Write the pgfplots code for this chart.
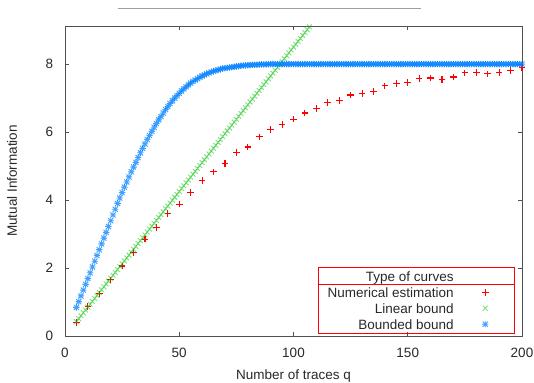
\documentclass[border=0pt]{standalone}
\usepackage{fontspec}
\setmainfont{Liberation Sans}
\usepackage{pgfplots}
\pgfplotsset{compat=1.18}
\definecolor{gpred}{RGB}{255,0,0}
\definecolor{gpgreen}{RGB}{0,192,0}
\definecolor{gpblue}{RGB}{0,128,255}
\definecolor{frame}{RGB}{80,80,80}
\definecolor{txt}{RGB}{40,40,40}
\makeatletter
\pgfdeclareplotmark{gpstar}{%
  \pgfpathmoveto{\pgfqpoint{-\pgfplotmarksize}{0pt}}\pgfpathlineto{\pgfqpoint{\pgfplotmarksize}{0pt}}%
  \pgfpathmoveto{\pgfqpoint{0pt}{-\pgfplotmarksize}}\pgfpathlineto{\pgfqpoint{0pt}{\pgfplotmarksize}}%
  \pgfpathmoveto{\pgfqpoint{-0.8\pgfplotmarksize}{-0.8\pgfplotmarksize}}\pgfpathlineto{\pgfqpoint{0.8\pgfplotmarksize}{0.8\pgfplotmarksize}}%
  \pgfpathmoveto{\pgfqpoint{-0.8\pgfplotmarksize}{0.8\pgfplotmarksize}}\pgfpathlineto{\pgfqpoint{0.8\pgfplotmarksize}{-0.8\pgfplotmarksize}}%
  \pgfusepathqstroke}
\pgfdeclareplotmark{gpplus}{%
  \pgfpathmoveto{\pgfqpoint{-\pgfplotmarksize}{0pt}}\pgfpathlineto{\pgfqpoint{\pgfplotmarksize}{0pt}}%
  \pgfpathmoveto{\pgfqpoint{0pt}{-\pgfplotmarksize}}\pgfpathlineto{\pgfqpoint{0pt}{\pgfplotmarksize}}%
  \pgfusepathqstroke}
\makeatother
\begin{document}
\begin{tikzpicture}
\path[use as bounding box] (-65bp,-47bp) rectangle (469bp,336bp);
\begin{axis}[
  scale only axis, width=457bp, height=310bp,
  at={(0,0)}, anchor=south west,
  xmin=0, xmax=200, ymin=0, ymax=9.12,
  xtick={0,50,100,150,200}, ytick={0,2,4,6,8},
  tick align=inside, major tick length=4bp,
  axis line style={frame, line width=0.9bp},
  every tick/.style={frame, line width=0.9bp},
  font=\fontsize{13.5bp}{16bp}\selectfont,
  /pgf/number format/assume math mode=true,
  tick label style={txt, inner sep=0pt},
  xticklabel style={anchor=center, yshift=-16.5bp},
  yticklabel style={anchor=east, xshift=-11.7bp},
  xlabel={Number of traces q}, ylabel={Mutual Information},
  xlabel style={txt, at={(axis description cs:0.5,-0.129)}, anchor=center, inner sep=0pt},
  ylabel style={txt, at={(axis description cs:-0.116,0.5)}, anchor=center, inner sep=0pt},
  legend entries={Type of curves, Numerical estimation, Linear bound, Bounded bound},
  legend cell align=right, legend plot pos=right,
  legend image code/.code={\path (-31bp,0bp) (28bp,0bp); \draw[#1] plot coordinates {(0bp,0bp)};},
  legend style={at={(axis cs:196.5,2.0)}, anchor=north east, draw=none, fill=none,
    inner sep=0pt, column sep=0pt, row sep=0pt, text=txt,
    nodes={inner sep=0pt, text height=12.8bp, text depth=3.2bp}},
]
\addlegendimage{empty legend}
\addplot[only marks, mark=gpplus, mark size=3.3bp, draw=gpred, line width=1.1bp, mark options={draw=gpred}] coordinates {
(5,0.40)(10,0.86)(15,1.24)(20,1.65)(25,2.06)(30,2.45)(35,2.85)(40,3.20)(45,3.61)(50,3.88)
(55,4.23)(60,4.58)(65,4.83)(70,5.08)(75,5.40)(80,5.56)(85,5.86)(90,6.07)(95,6.22)(100,6.38)
(105,6.56)(110,6.70)(115,6.87)(120,6.93)(125,7.09)(130,7.13)(135,7.20)(140,7.36)(145,7.42)(150,7.46)
(155,7.57)(160,7.59)(165,7.54)(170,7.62)(175,7.74)(180,7.76)(185,7.71)(190,7.76)(195,7.81)(200,7.89)};
\addplot[only marks, mark=x, mark size=3.4bp, draw=gpgreen, line width=0.9bp, mark options={draw=gpgreen, draw opacity=0.5}] coordinates {
(5,0.425)(6,0.510)(7,0.595)(8,0.680)(9,0.765)(10,0.850)(11,0.935)(12,1.020)(13,1.105)(14,1.190)
(15,1.275)(16,1.360)(17,1.445)(18,1.530)(19,1.615)(20,1.700)(21,1.785)(22,1.870)(23,1.955)(24,2.040)
(25,2.125)(26,2.210)(27,2.295)(28,2.380)(29,2.465)(30,2.550)(31,2.635)(32,2.720)(33,2.805)(34,2.890)
(35,2.975)(36,3.060)(37,3.145)(38,3.230)(39,3.315)(40,3.400)(41,3.485)(42,3.570)(43,3.655)(44,3.740)
(45,3.825)(46,3.910)(47,3.995)(48,4.080)(49,4.165)(50,4.250)(51,4.335)(52,4.420)(53,4.505)(54,4.590)
(55,4.675)(56,4.760)(57,4.845)(58,4.930)(59,5.015)(60,5.100)(61,5.185)(62,5.270)(63,5.355)(64,5.440)
(65,5.525)(66,5.610)(67,5.695)(68,5.780)(69,5.865)(70,5.950)(71,6.035)(72,6.120)(73,6.205)(74,6.290)
(75,6.375)(76,6.460)(77,6.545)(78,6.630)(79,6.715)(80,6.800)(81,6.885)(82,6.970)(83,7.055)(84,7.140)
(85,7.225)(86,7.310)(87,7.395)(88,7.480)(89,7.565)(90,7.650)(91,7.735)(92,7.820)(93,7.905)(94,7.990)
(95,8.075)(96,8.160)(97,8.245)(98,8.330)(99,8.415)(100,8.500)(101,8.585)(102,8.670)(103,8.755)(104,8.840)
(105,8.925)(106,9.010)(107,9.095)(108,9.180)};
\addplot[only marks, mark=gpstar, mark size=3.2bp, draw=gpblue, line width=0.9bp, mark options={draw=gpblue, draw opacity=0.75}] coordinates {
(5,0.84)(6,1.01)(7,1.18)(8,1.35)(9,1.52)(10,1.69)(11,1.86)(12,2.03)(13,2.20)(14,2.37)
(15,2.54)(16,2.71)(17,2.88)(18,3.05)(19,3.22)(20,3.39)(21,3.56)(22,3.73)(23,3.90)(24,4.06)
(25,4.22)(26,4.38)(27,4.53)(28,4.68)(29,4.83)(30,4.97)(31,5.11)(32,5.25)(33,5.39)(34,5.52)
(35,5.65)(36,5.78)(37,5.90)(38,6.02)(39,6.14)(40,6.25)(41,6.36)(42,6.46)(43,6.56)(44,6.66)
(45,6.75)(46,6.84)(47,6.92)(48,7.00)(49,7.07)(50,7.14)(51,7.21)(52,7.27)(53,7.33)(54,7.39)
(55,7.44)(56,7.49)(57,7.53)(58,7.57)(59,7.61)(60,7.65)(61,7.68)(62,7.71)(63,7.74)(64,7.77)
(65,7.79)(66,7.81)(67,7.83)(68,7.85)(69,7.87)(70,7.88)(71,7.89)(72,7.90)(73,7.91)(74,7.92)
(75,7.93)(76,7.94)(77,7.95)(78,7.96)(79,7.96)(80,7.97)(81,7.97)(82,7.98)(83,7.98)(84,7.98)
(85,7.99)(86,7.99)(87,7.99)(88,7.99)(89,8.00)(90,8.00)(91,8.00)(92,8.00)(93,8.00)(94,8.00)
(95,8.00)(96,8.00)(97,8.00)(98,8.00)(99,8.00)(100,8.00)(101,8.00)(102,8.00)(103,8.00)(104,8.00)
(105,8.00)(106,8.00)(107,8.00)(108,8.00)(109,8.00)(110,8.00)(111,8.00)(112,8.00)(113,8.00)(114,8.00)
(115,8.00)(116,8.00)(117,8.00)(118,8.00)(119,8.00)(120,8.00)(121,8.00)(122,8.00)(123,8.00)(124,8.00)
(125,8.00)(126,8.00)(127,8.00)(128,8.00)(129,8.00)(130,8.00)(131,8.00)(132,8.00)(133,8.00)(134,8.00)
(135,8.00)(136,8.00)(137,8.00)(138,8.00)(139,8.00)(140,8.00)(141,8.00)(142,8.00)(143,8.00)(144,8.00)
(145,8.00)(146,8.00)(147,8.00)(148,8.00)(149,8.00)(150,8.00)(151,8.00)(152,8.00)(153,8.00)(154,8.00)
(155,8.00)(156,8.00)(157,8.00)(158,8.00)(159,8.00)(160,8.00)(161,8.00)(162,8.00)(163,8.00)(164,8.00)
(165,8.00)(166,8.00)(167,8.00)(168,8.00)(169,8.00)(170,8.00)(171,8.00)(172,8.00)(173,8.00)(174,8.00)
(175,8.00)(176,8.00)(177,8.00)(178,8.00)(179,8.00)(180,8.00)(181,8.00)(182,8.00)(183,8.00)(184,8.00)
(185,8.00)(186,8.00)(187,8.00)(188,8.00)(189,8.00)(190,8.00)(191,8.00)(192,8.00)(193,8.00)(194,8.00)
(195,8.00)(196,8.00)(197,8.00)(198,8.00)(199,8.00)(200,8.00)};
\draw[gpred, line width=0.9bp] (axis cs:110.7,0.088) rectangle (axis cs:196.5,2.029);
\draw[gpred, line width=0.9bp] (axis cs:110.7,1.529) -- (axis cs:196.5,1.529);
\end{axis}
\draw[black!38, line width=1.6bp] (53bp,327.5bp) -- (356bp,327.5bp);
\end{tikzpicture}
\end{document}
